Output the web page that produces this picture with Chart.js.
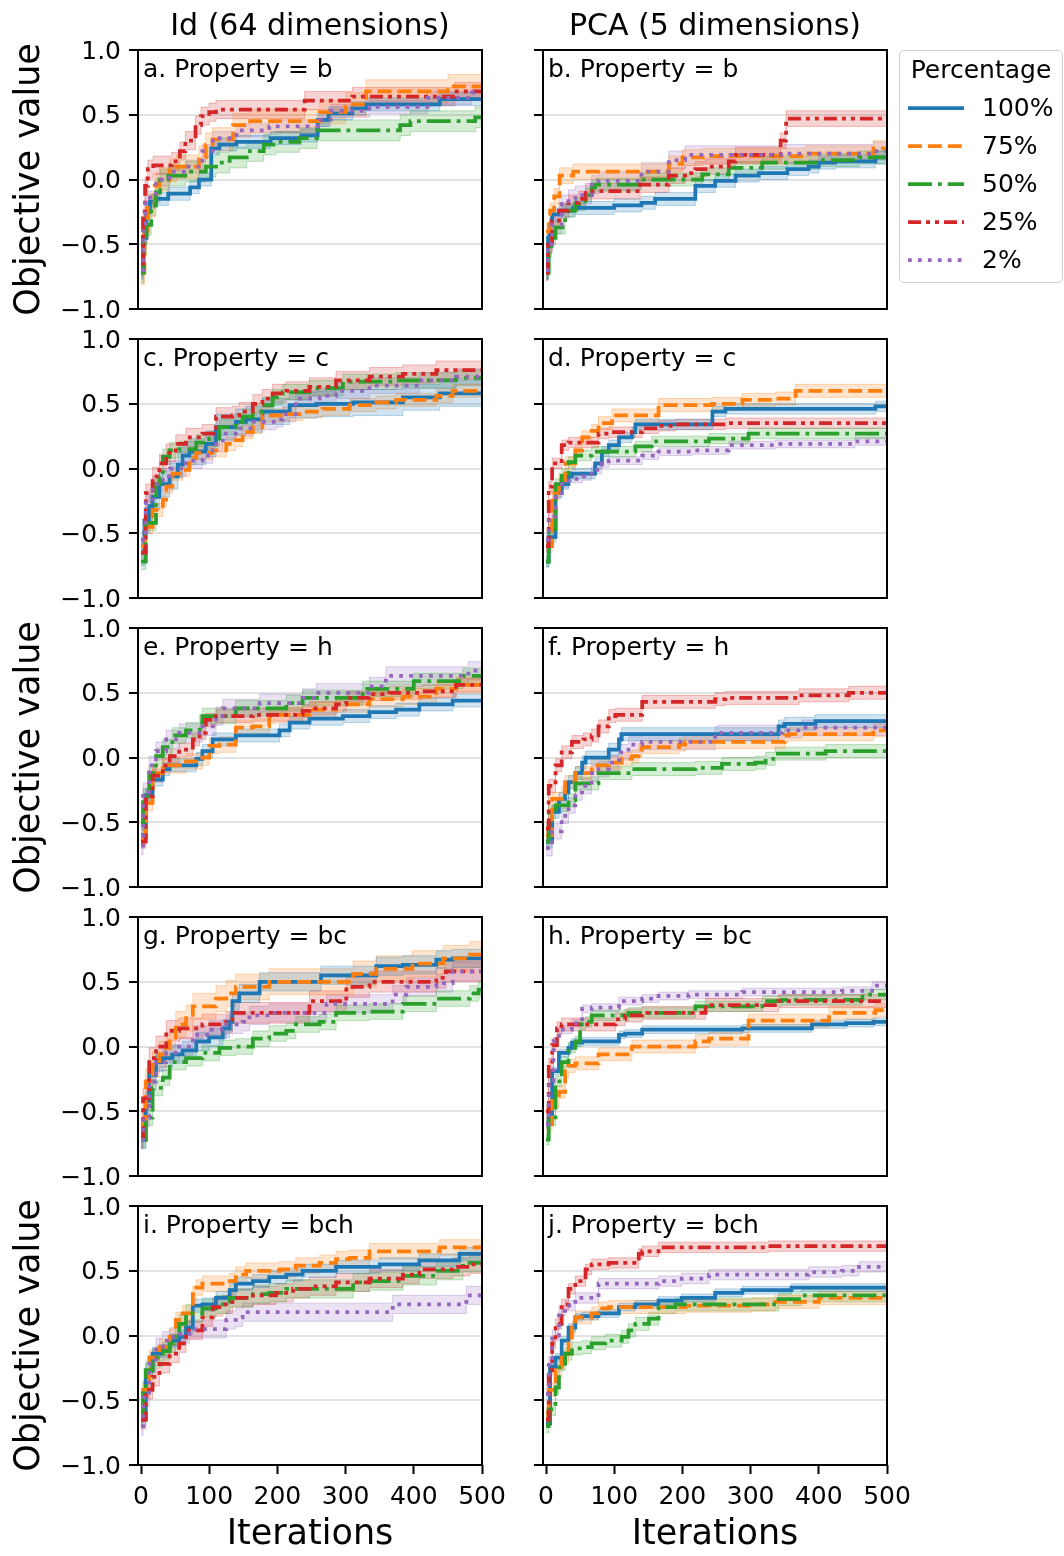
<!DOCTYPE html>
<html>
<head>
<meta charset="utf-8">
<script src="https://cdn.jsdelivr.net/npm/chart.js@4.4.1/dist/chart.umd.min.js"></script>
<style>
  body { margin: 0; background: #fff; }
  #fig { position: relative; width: 1064px; height: 1556px; overflow: hidden;
         font-family: 'DejaVu Sans', sans-serif; color: #000; background: #fff; }
  #fig canvas { position: absolute; }
  .t { position: absolute; white-space: nowrap; }
  #legend { position: absolute; left: 899px; top: 50px; width: 162px; height: 231px;
            border: 1.5px solid #d0d0d0; border-radius: 5px; background: #fff; }
</style>
</head>
<body>
<div id="fig"></div>
<script>
const percentages = ['100%', '75%', '50%', '25%', '2%'];
const xTicks = [0, 100, 200, 300, 400, 500];
const yTicks = [-1, -0.5, 0, 0.5, 1];

// best objective so far: [iteration, mean value] — each value holds until the next step

// a. Id, property b
const a100 = [[0,-0.72],[3,-0.45],[8,-0.25],[13,-0.17],[22,-0.15],[40,-0.11],[72,-0.06],[85,0.0],[103,0.24],[115,0.27],[140,0.29],[190,0.32],[235,0.34],[259,0.46],[275,0.51],[310,0.55],[330,0.58],[438,0.62],[500,0.62]];
const a75 = [[0,-0.72],[5,-0.4],[10,-0.2],[20,-0.05],[27,0.0],[42,0.07],[52,0.1],[85,0.17],[95,0.27],[105,0.31],[135,0.42],[160,0.45],[262,0.52],[300,0.58],[330,0.68],[450,0.72],[500,0.72]];
const a50 = [[0,-0.72],[4,-0.5],[8,-0.35],[15,-0.2],[22,-0.1],[28,0.0],[40,0.03],[65,0.06],[95,0.1],[110,0.13],[130,0.17],[155,0.22],[180,0.27],[198,0.29],[232,0.32],[258,0.38],[380,0.42],[395,0.45],[490,0.48],[500,0.48]];
const a25 = [[0,-0.65],[3,-0.3],[6,-0.05],[10,0.08],[18,0.11],[45,0.14],[57,0.22],[65,0.3],[80,0.42],[88,0.49],[100,0.52],[110,0.54],[240,0.61],[310,0.64],[460,0.68],[500,0.68]];
const a2 = [[0,-0.7],[3,-0.4],[7,-0.14],[22,0.0],[42,0.06],[66,0.1],[90,0.22],[105,0.32],[140,0.38],[188,0.41],[262,0.46],[278,0.53],[335,0.56],[420,0.63],[485,0.67],[500,0.67]];
const bandA = [0.05, 0.09, 0.08, 0.07, 0.05];

// b. PCA, property b
const b100 = [[0,-0.72],[3,-0.45],[5,-0.35],[9,-0.27],[23,-0.24],[40,-0.22],[100,-0.2],[140,-0.18],[160,-0.15],[219,-0.05],[248,-0.01],[278,0.03],[312,0.05],[354,0.08],[385,0.1],[400,0.13],[424,0.14],[483,0.17],[500,0.17]];
const b75 = [[0,-0.4],[6,-0.24],[12,-0.13],[20,0.03],[40,0.06],[180,0.12],[200,0.17],[230,0.18],[380,0.2],[480,0.24],[500,0.25]];
const b50 = [[0,-0.72],[4,-0.55],[8,-0.45],[14,-0.37],[28,-0.24],[43,-0.19],[58,-0.12],[67,-0.06],[72,-0.04],[138,0.0],[229,0.04],[268,0.09],[317,0.13],[400,0.15],[459,0.17],[500,0.17]];
const b25 = [[0,-0.72],[3,-0.5],[9,-0.32],[19,-0.24],[33,-0.18],[48,-0.15],[58,-0.09],[138,-0.04],[180,0.03],[204,0.05],[219,0.08],[234,0.1],[268,0.14],[278,0.19],[344,0.3],[352,0.47],[500,0.47]];
const b2 = [[0,-0.7],[3,-0.5],[9,-0.35],[23,-0.19],[33,-0.15],[43,-0.12],[67,-0.04],[77,-0.01],[140,0.06],[180,0.15],[204,0.19],[350,0.2],[480,0.22],[500,0.22]];
const bandB = [0.05, 0.06, 0.05, 0.06, 0.07];

// c. Id, property c
const c100 = [[0,-0.65],[5,-0.4],[12,-0.29],[17,-0.22],[27,-0.12],[42,-0.06],[54,0.03],[61,0.1],[71,0.13],[95,0.19],[110,0.32],[139,0.36],[154,0.38],[178,0.44],[218,0.49],[257,0.5],[311,0.51],[384,0.55],[438,0.58],[500,0.58]];
const c75 = [[0,-0.6],[6,-0.45],[17,-0.32],[32,-0.24],[37,-0.14],[46,-0.04],[61,-0.01],[71,0.08],[81,0.12],[105,0.14],[125,0.19],[139,0.22],[149,0.28],[164,0.32],[178,0.41],[208,0.42],[237,0.44],[266,0.46],[306,0.49],[345,0.51],[374,0.53],[433,0.56],[457,0.6],[500,0.6]];
const c50 = [[0,-0.72],[7,-0.42],[22,-0.12],[27,-0.07],[32,0.09],[42,0.14],[56,0.15],[81,0.2],[100,0.23],[115,0.32],[139,0.36],[149,0.4],[164,0.44],[178,0.49],[193,0.55],[208,0.59],[247,0.62],[296,0.67],[374,0.68],[462,0.7],[500,0.7]];
const c25 = [[0,-0.65],[7,-0.19],[17,-0.06],[27,0.04],[37,0.12],[51,0.19],[66,0.24],[90,0.27],[110,0.4],[134,0.41],[144,0.44],[164,0.5],[178,0.54],[193,0.58],[213,0.6],[247,0.63],[286,0.68],[335,0.71],[384,0.73],[433,0.76],[500,0.76]];
const c2 = [[0,-0.55],[7,-0.24],[17,-0.12],[32,-0.06],[42,0.0],[66,0.06],[90,0.1],[105,0.19],[120,0.27],[139,0.31],[164,0.36],[198,0.38],[208,0.42],[227,0.54],[262,0.56],[286,0.6],[335,0.64],[408,0.68],[462,0.71],[500,0.71]];
const bandC = [0.1, 0.05, 0.06, 0.07, 0.06];

// d. PCA, property c
const d100 = [[0,-0.72],[4,-0.53],[14,-0.19],[23,-0.12],[33,-0.06],[38,-0.04],[72,0.04],[82,0.13],[92,0.18],[107,0.24],[126,0.28],[131,0.34],[244,0.44],[263,0.46],[483,0.48],[500,0.48]];
const d75 = [[0,-0.6],[9,-0.19],[19,-0.09],[28,0.04],[43,0.14],[53,0.24],[67,0.29],[77,0.35],[97,0.41],[165,0.49],[244,0.5],[288,0.53],[336,0.54],[366,0.6],[500,0.61]];
const d50 = [[0,-0.72],[4,-0.47],[14,-0.12],[23,-0.04],[33,0.05],[43,0.1],[67,0.13],[131,0.17],[155,0.21],[239,0.23],[297,0.27],[500,0.27]];
const d25 = [[0,-0.6],[4,-0.14],[9,0.04],[23,0.18],[33,0.2],[77,0.27],[92,0.28],[141,0.31],[165,0.33],[190,0.34],[263,0.35],[500,0.35]];
const d2 = [[0,-0.55],[4,-0.37],[14,-0.19],[23,-0.12],[33,-0.08],[53,-0.06],[67,-0.01],[82,0.04],[92,0.06],[141,0.1],[165,0.13],[214,0.14],[268,0.18],[336,0.19],[453,0.21],[500,0.22]];
const bandD = [0.04, 0.05, 0.04, 0.04, 0.03];

// e. Id, property h
const e100 = [[0,-0.6],[7,-0.29],[17,-0.17],[32,-0.09],[42,-0.06],[81,-0.01],[90,0.05],[105,0.14],[139,0.17],[203,0.21],[218,0.27],[247,0.3],[296,0.32],[335,0.35],[374,0.37],[408,0.41],[457,0.44],[500,0.44]];
const e75 = [[0,-0.62],[7,-0.35],[17,-0.12],[32,-0.06],[66,-0.03],[90,0.0],[100,0.09],[115,0.1],[139,0.23],[164,0.24],[188,0.32],[198,0.33],[247,0.37],[286,0.41],[335,0.45],[384,0.47],[433,0.53],[462,0.56],[500,0.57]];
const e50 = [[0,-0.5],[3,-0.3],[12,-0.12],[22,0.01],[32,0.08],[46,0.17],[66,0.21],[86,0.27],[90,0.32],[139,0.38],[213,0.42],[237,0.46],[325,0.53],[400,0.59],[472,0.63],[500,0.64]];
const e25 = [[0,-0.65],[7,-0.3],[17,-0.14],[32,-0.06],[42,0.01],[56,0.06],[76,0.14],[86,0.19],[95,0.29],[110,0.32],[164,0.33],[237,0.36],[247,0.38],[286,0.41],[301,0.46],[335,0.49],[364,0.5],[413,0.51],[462,0.56],[500,0.57]];
const e2 = [[0,-0.68],[3,-0.27],[12,-0.06],[22,0.05],[37,0.14],[56,0.19],[90,0.24],[110,0.32],[120,0.38],[174,0.42],[237,0.46],[257,0.5],[335,0.55],[359,0.63],[480,0.67],[500,0.67]];
const bandE = [0.05, 0.06, 0.06, 0.05, 0.07];

// f. PCA, property h
const f100 = [[0,-0.65],[9,-0.42],[19,-0.32],[28,-0.27],[33,-0.19],[43,-0.12],[53,-0.04],[58,0.0],[92,0.06],[107,0.14],[111,0.18],[341,0.24],[350,0.26],[395,0.28],[500,0.29]];
const f75 = [[0,-0.6],[9,-0.32],[23,-0.27],[28,-0.19],[43,-0.12],[67,-0.06],[92,-0.04],[111,-0.01],[126,0.01],[136,0.06],[141,0.08],[195,0.1],[204,0.12],[350,0.17],[356,0.18],[480,0.21],[500,0.21]];
const f50 = [[0,-0.65],[4,-0.42],[14,-0.37],[33,-0.33],[43,-0.2],[77,-0.12],[126,-0.09],[219,-0.08],[258,-0.05],[307,-0.04],[322,-0.01],[336,0.03],[410,0.05],[500,0.06]];
const f25 = [[0,-0.55],[4,-0.22],[14,-0.06],[23,0.04],[38,0.12],[55,0.14],[67,0.17],[77,0.24],[92,0.32],[102,0.33],[141,0.43],[248,0.45],[263,0.46],[371,0.48],[444,0.5],[500,0.5]];
const f2 = [[0,-0.7],[9,-0.57],[23,-0.45],[33,-0.37],[43,-0.27],[53,-0.22],[67,-0.12],[77,-0.09],[92,-0.04],[107,0.04],[121,0.1],[141,0.12],[248,0.18],[253,0.19],[346,0.21],[375,0.23],[500,0.24]];
const bandF = [0.05, 0.05, 0.05, 0.05, 0.06];

// g. Id, property bc
const g100 = [[0,-0.72],[7,-0.42],[12,-0.22],[22,-0.12],[32,-0.09],[46,-0.06],[61,-0.03],[81,0.04],[100,0.07],[120,0.14],[130,0.19],[134,0.35],[144,0.41],[174,0.5],[264,0.55],[345,0.62],[384,0.63],[433,0.67],[457,0.68],[500,0.68]];
const g75 = [[0,-0.6],[7,-0.27],[17,-0.14],[27,-0.06],[37,-0.01],[42,0.04],[51,0.17],[66,0.22],[76,0.31],[110,0.37],[125,0.41],[139,0.46],[188,0.5],[311,0.56],[345,0.6],[398,0.64],[443,0.68],[482,0.71],[500,0.71]];
const g50 = [[0,-0.72],[7,-0.55],[17,-0.32],[32,-0.24],[42,-0.12],[66,-0.09],[90,-0.05],[115,-0.01],[139,0.0],[164,0.06],[188,0.1],[213,0.12],[227,0.17],[262,0.19],[286,0.26],[335,0.27],[384,0.33],[433,0.37],[482,0.41],[495,0.44],[500,0.44]];
const g25 = [[0,-0.7],[3,-0.4],[12,-0.09],[22,0.0],[37,0.12],[56,0.14],[90,0.17],[125,0.19],[134,0.26],[247,0.35],[301,0.46],[335,0.5],[433,0.53],[447,0.58],[500,0.58]];
const g2 = [[0,-0.72],[3,-0.55],[12,-0.27],[22,-0.12],[37,-0.05],[56,0.0],[76,0.09],[100,0.13],[125,0.17],[149,0.19],[159,0.24],[188,0.26],[272,0.33],[369,0.4],[389,0.46],[433,0.49],[457,0.58],[500,0.58]];
const bandG = [0.07, 0.1, 0.06, 0.08, 0.07];

// h. PCA, property bc
const h100 = [[0,-0.6],[4,-0.52],[9,-0.19],[19,-0.05],[33,-0.01],[38,0.03],[53,0.04],[107,0.09],[116,0.1],[141,0.13],[288,0.14],[390,0.17],[440,0.18],[480,0.19],[500,0.19]];
const h75 = [[0,-0.6],[9,-0.42],[19,-0.35],[28,-0.19],[33,-0.15],[43,-0.13],[77,-0.06],[126,0.0],[219,0.04],[239,0.06],[297,0.2],[415,0.26],[483,0.28],[500,0.29]];
const h50 = [[0,-0.72],[4,-0.57],[14,-0.27],[23,-0.12],[33,-0.01],[43,0.04],[50,0.17],[58,0.19],[67,0.24],[121,0.26],[219,0.31],[317,0.35],[346,0.36],[464,0.4],[500,0.4]];
const h25 = [[0,-0.5],[4,-0.14],[9,0.01],[16,0.14],[23,0.17],[102,0.21],[116,0.24],[141,0.26],[234,0.32],[341,0.35],[500,0.35]];
const h2 = [[0,-0.6],[4,-0.27],[11,0.04],[19,0.13],[38,0.18],[53,0.29],[67,0.3],[107,0.35],[141,0.37],[165,0.39],[209,0.4],[288,0.42],[434,0.43],[478,0.47],[500,0.47]];
const bandH = [0.03, 0.05, 0.04, 0.05, 0.03];

// i. Id, property bch
const i100 = [[0,-0.65],[7,-0.27],[17,-0.14],[27,-0.12],[42,-0.04],[56,-0.01],[66,0.06],[76,0.23],[90,0.24],[110,0.29],[130,0.35],[139,0.4],[164,0.42],[188,0.45],[213,0.47],[237,0.5],[286,0.53],[350,0.55],[408,0.58],[467,0.63],[500,0.63]];
const i75 = [[0,-0.6],[3,-0.42],[12,-0.17],[27,-0.09],[42,-0.01],[51,0.12],[61,0.17],[76,0.32],[81,0.37],[90,0.4],[130,0.42],[139,0.47],[154,0.5],[203,0.51],[227,0.54],[262,0.56],[286,0.59],[306,0.6],[335,0.65],[438,0.68],[500,0.68]];
const i50 = [[0,-0.6],[3,-0.42],[7,-0.27],[17,-0.17],[32,-0.12],[42,-0.06],[51,0.01],[56,0.09],[66,0.17],[90,0.21],[110,0.24],[130,0.29],[164,0.32],[188,0.33],[213,0.36],[311,0.41],[335,0.42],[384,0.46],[433,0.5],[472,0.56],[500,0.57]];
const i25 = [[0,-0.65],[7,-0.42],[17,-0.32],[27,-0.22],[42,-0.14],[56,-0.06],[66,0.04],[90,0.14],[105,0.22],[120,0.24],[134,0.29],[164,0.31],[198,0.33],[223,0.36],[247,0.38],[286,0.41],[335,0.44],[384,0.47],[408,0.51],[457,0.53],[482,0.55],[500,0.56]];
const i2 = [[0,-0.7],[3,-0.48],[12,-0.22],[22,-0.09],[32,-0.04],[42,-0.01],[56,0.01],[71,0.05],[125,0.12],[139,0.14],[149,0.18],[369,0.24],[477,0.31],[500,0.31]];
const bandI = [0.05, 0.06, 0.07, 0.07, 0.07];

// j. PCA, property bch
const j100 = [[0,-0.68],[6,-0.24],[14,-0.17],[23,-0.04],[33,0.06],[43,0.14],[53,0.15],[77,0.17],[107,0.22],[131,0.24],[165,0.27],[199,0.29],[248,0.33],[288,0.35],[360,0.37],[500,0.38]];
const j75 = [[0,-0.6],[4,-0.42],[14,-0.27],[23,-0.17],[33,-0.06],[38,0.06],[43,0.14],[67,0.17],[77,0.21],[92,0.22],[205,0.23],[302,0.24],[336,0.26],[400,0.29],[500,0.29]];
const j50 = [[0,-0.7],[4,-0.57],[14,-0.4],[19,-0.22],[28,-0.14],[38,-0.1],[53,-0.09],[67,-0.06],[87,-0.04],[111,-0.01],[121,0.04],[131,0.09],[151,0.13],[165,0.22],[190,0.24],[341,0.28],[375,0.31],[500,0.31]];
const j25 = [[0,-0.65],[4,-0.27],[9,-0.06],[14,0.09],[23,0.24],[33,0.36],[43,0.42],[58,0.51],[67,0.55],[92,0.56],[136,0.63],[141,0.65],[165,0.68],[326,0.69],[500,0.69]];
const j2 = [[0,-0.45],[4,-0.2],[9,0.0],[19,0.19],[28,0.23],[43,0.29],[77,0.4],[165,0.42],[199,0.44],[239,0.47],[385,0.49],[434,0.5],[459,0.53],[500,0.53]];
const bandJ = [0.03, 0.05, 0.05, 0.04, 0.04];

const panels = [
  { name: 'a. Property = b',   series: [a100, a75, a50, a25, a2], band: bandA },
  { name: 'b. Property = b',   series: [b100, b75, b50, b25, b2], band: bandB },
  { name: 'c. Property = c',   series: [c100, c75, c50, c25, c2], band: bandC },
  { name: 'd. Property = c',   series: [d100, d75, d50, d25, d2], band: bandD },
  { name: 'e. Property = h',   series: [e100, e75, e50, e25, e2], band: bandE },
  { name: 'f. Property = h',   series: [f100, f75, f50, f25, f2], band: bandF },
  { name: 'g. Property = bc',  series: [g100, g75, g50, g25, g2], band: bandG },
  { name: 'h. Property = bc',  series: [h100, h75, h50, h25, h2], band: bandH },
  { name: 'i. Property = bch', series: [i100, i75, i50, i25, i2], band: bandI },
  { name: 'j. Property = bch', series: [j100, j75, j50, j25, j2], band: bandJ },
];

// line styles (tab10 colours, matplotlib-like dash patterns)
const colors = ['#1f77b4', '#ff7f0e', '#2ca02c', '#d62728', '#9467bd'];
const dashes = [[], [13.9, 6], [24, 6, 3.75, 6], [13, 5, 4, 5, 4, 5], [3.75, 6.2]];
const LW = 3.75;
const FONT = 'DejaVu Sans';

function rgba(hex, a) {
  const n = parseInt(hex.slice(1), 16);
  return `rgba(${n >> 16},${(n >> 8) & 255},${n & 255},${a})`;
}
const fmtY = v => v.toFixed(1).replace('-', '\u2212');

// panel frame + corner label, drawn over the lines
const panelDecor = {
  id: 'panelDecor',
  afterDatasetsDraw(chart, args, opts) {
    const { ctx, chartArea: a } = chart;
    ctx.save();
    ctx.strokeStyle = '#000';
    ctx.lineWidth = 2;
    ctx.strokeRect(a.left, a.top, a.right - a.left, a.bottom - a.top);
    ctx.fillStyle = '#000';
    ctx.font = `25px "${FONT}"`;
    ctx.textBaseline = 'alphabetic';
    ctx.fillText(opts.text, a.left + 5, a.top + 27);
    ctx.restore();
  }
};

const fig = document.getElementById('fig');
const PW = 344, PH = 259, AXW = 98, PADT = 34, PADR = 44;

panels.forEach((p, i) => {
  const col = i % 2, row = Math.floor(i / 2);
  const bottom = row === 4;
  const left = col ? 543 : 138;
  const top = 50 + row * 289;
  // room below the frame: tick labels on the last row, label overhang elsewhere
  const xh = bottom ? 64 : 40;

  const cv = document.createElement('canvas');
  cv.width = AXW + PW + PADR;
  cv.height = PADT + PH + xh;
  cv.style.left = (left - AXW) + 'px';
  cv.style.top = (top - PADT) + 'px';
  fig.appendChild(cv);

  const datasets = [];
  p.series.forEach((s, k) => {
    const w = p.band[k];
    const edge = { borderColor: rgba(colors[k], 0.3), borderWidth: 1, stepped: true, pointRadius: 0, order: 100 + k };
    datasets.push({ ...edge, data: s.map(d => ({ x: d[0], y: d[1] + w })), backgroundColor: rgba(colors[k], 0.2), fill: '+1' });
    datasets.push({ ...edge, data: s.map(d => ({ x: d[0], y: d[1] - w })), fill: false });
  });
  p.series.forEach((s, k) => {
    datasets.push({
      label: percentages[k],
      data: s.map(d => ({ x: d[0], y: d[1] })),
      borderColor: colors[k],
      borderWidth: LW,
      borderDash: dashes[k],
      stepped: true,
      pointRadius: 0,
      fill: false,
      order: 10 - k
    });
  });

  new Chart(cv, {
    type: 'line',
    data: { datasets },
    plugins: [panelDecor],
    options: {
      responsive: false,
      animation: false,
      devicePixelRatio: 1,
      events: [],
      layout: { padding: { top: PADT, right: PADR, left: 0, bottom: 0 } },
      plugins: {
        legend: { display: false },
        tooltip: { enabled: false },
        panelDecor: { text: p.name }
      },
      scales: {
        x: {
          type: 'linear', min: -4.4, max: 500,
          afterBuildTicks: s => { s.ticks = xTicks.map(v => ({ value: v })); },
          afterFit: s => { s.height = xh; },
          border: { display: false },
          grid: { drawOnChartArea: false, drawTicks: bottom, tickLength: 9, tickWidth: 2, tickColor: '#000', color: 'rgba(0,0,0,0)' },
          ticks: { display: bottom, autoSkip: false, maxRotation: 0, padding: 8, color: '#000', font: { family: FONT, size: 25 } }
        },
        y: {
          min: -1, max: 1,
          afterBuildTicks: s => { s.ticks = yTicks.map(v => ({ value: v })); },
          afterFit: s => { s.width = AXW; },
          border: { display: false },
          grid: {
            color: c => (Math.abs(c.tick.value) > 0.99 ? 'rgba(0,0,0,0)' : '#e2e2e2'),
            lineWidth: 2, tickLength: 9, tickWidth: 2, tickColor: '#000'
          },
          ticks: { display: col === 0, padding: 8, labelOffset: 2, color: '#000', font: { family: FONT, size: 25 }, callback: v => fmtY(v) }
        }
      }
    }
  });
});

// headings and axis titles
function addText(str, cx, baseline, size, rotate) {
  const d = document.createElement('div');
  d.className = 't';
  d.textContent = str;
  d.style.fontSize = size + 'px';
  d.style.lineHeight = size + 'px';
  d.style.width = '600px';
  d.style.textAlign = 'center';
  d.style.left = (cx - 300) + 'px';
  if (rotate) {
    // cx is the baseline x, baseline is the vertical centre of the rotated text
    d.style.left = (cx - 0.346 * size - 300) + 'px';
    d.style.top = (baseline - size / 2) + 'px';
    d.style.transform = 'rotate(-90deg)';
  } else {
    d.style.top = (baseline - 0.846 * size) + 'px';
  }
  fig.appendChild(d);
}
addText('Id (64 dimensions)', 310, 35, 30);
addText('PCA (5 dimensions)', 715, 35, 30);
addText('Iterations', 310, 1545, 35);
addText('Iterations', 715, 1545, 35);
[0, 2, 4].forEach(r => addText('Objective value', 39, 50 + r * 289 + PH / 2, 35, true));

// legend
const lg = document.createElement('div');
lg.id = 'legend';
fig.appendChild(lg);
addText('Percentage', 981, 78, 25);
const ns = 'http://www.w3.org/2000/svg';
percentages.forEach((pct, k) => {
  const y = 108 + 38 * k;
  const svg = document.createElementNS(ns, 'svg');
  svg.setAttribute('width', 60);
  svg.setAttribute('height', 10);
  svg.style.position = 'absolute';
  svg.style.left = '906px';
  svg.style.top = (y - 5) + 'px';
  const ln = document.createElementNS(ns, 'line');
  ln.setAttribute('x1', 2); ln.setAttribute('x2', 58);
  ln.setAttribute('y1', 5); ln.setAttribute('y2', 5);
  ln.setAttribute('stroke', colors[k]);
  ln.setAttribute('stroke-width', LW);
  if (dashes[k].length) ln.setAttribute('stroke-dasharray', dashes[k].join(' '));
  svg.appendChild(ln);
  fig.appendChild(svg);
  const t = document.createElement('div');
  t.className = 't';
  t.textContent = pct;
  t.style.fontSize = '25px';
  t.style.lineHeight = '25px';
  t.style.left = '982px';
  t.style.top = (y + 8.5 - 0.846 * 25) + 'px';
  fig.appendChild(t);
});
</script>
</body>
</html>
